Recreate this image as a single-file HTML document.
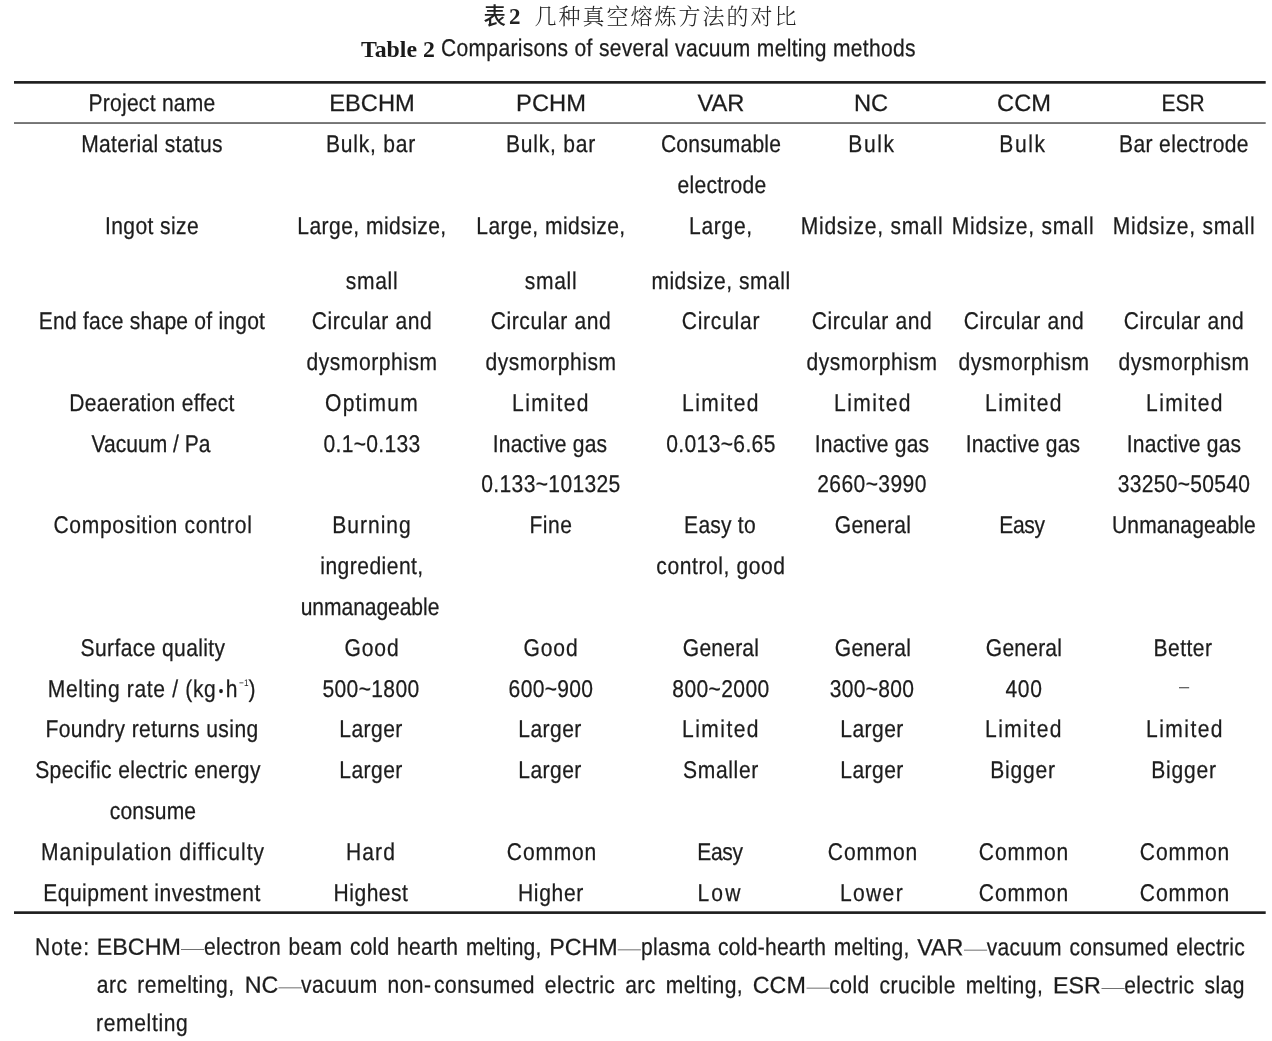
<!DOCTYPE html>
<html lang="en"><head><meta charset="utf-8"><title>Table 2</title>
<style>
html,body{margin:0;padding:0;background:#fff;}
body{width:1272px;height:1041px;position:relative;overflow:hidden;color:#1c1c1c;
 font-family:"Liberation Sans","Noto Sans CJK SC",sans-serif;}
.t{position:absolute;white-space:nowrap;font-size:24.2px;line-height:28px;height:28px;
 transform:translateX(-50%) scaleX(0.87) rotate(.03deg);transform-origin:50% 50%;}
.c{transform:translateX(-50%) rotate(.03deg);font-size:23.7px}
.c.e{transform:translateX(-50%) scaleX(.885) rotate(.03deg)}
.l{position:absolute;white-space:nowrap;font-size:24.2px;line-height:28px;height:28px;
 letter-spacing:.45px;transform:scaleX(0.87) rotate(.03deg);transform-origin:0 50%;}

.t,.l{-webkit-text-stroke:0.25px #1c1c1c}
.rule{position:absolute;left:14px;width:1252px;background:#222;}
sup{font-size:9.5px;line-height:0;vertical-align:baseline;position:relative;top:-11.3px;letter-spacing:0;-webkit-text-stroke:0;margin-left:1px}
.nj{text-align:justify;text-align-last:justify;white-space:nowrap;transform-origin:50% 50%}
.em{letter-spacing:0;color:#444;display:inline-block;transform:scale(1.1,.55);margin:0 .9px;position:relative;top:1.5px;-webkit-text-stroke:0}
.ab{display:inline-block;letter-spacing:0;font-size:23.3px;transform:scaleX(1.1494);transform-origin:0 50%}
</style></head><body>

<svg width="1272" height="1041" viewBox="0 0 1272 1041" style="position:absolute;left:0;top:0" shape-rendering="geometricPrecision"><rect x="14" y="81.05" width="1251.7" height="2.65" fill="#1e1e1e"/><rect x="14" y="122.35" width="1251.7" height="1.35" fill="#3a3a3a"/><rect x="14" y="911.3" width="1251.7" height="2.65" fill="#1e1e1e"/></svg>
<div class="t" style="left:151.75px;top:89.16px;letter-spacing:0.307px">Project name</div>
<div class="t c" style="left:371.65px;top:89.34px;letter-spacing:0.000px">EBCHM</div>
<div class="t c" style="left:550.67px;top:89.34px;letter-spacing:0.000px">PCHM</div>
<div class="t c" style="left:721.06px;top:89.34px;letter-spacing:0.000px">VAR</div>
<div class="t c" style="left:871.33px;top:89.34px;letter-spacing:0.000px">NC</div>
<div class="t c" style="left:1023.99px;top:89.34px;letter-spacing:0.000px">CCM</div>
<div class="t c e" style="left:1183.31px;top:89.34px;letter-spacing:0.000px">ESR</div>
<div class="t" style="left:152.10px;top:129.86px;letter-spacing:0.354px">Material status</div>
<div class="t" style="left:371.28px;top:129.86px;letter-spacing:0.874px">Bulk, bar</div>
<div class="t" style="left:550.88px;top:129.86px;letter-spacing:0.874px">Bulk, bar</div>
<div class="t" style="left:720.72px;top:129.86px;letter-spacing:0.228px">Consumable</div>
<div class="t" style="left:872.03px;top:129.86px;letter-spacing:1.890px">Bulk</div>
<div class="t" style="left:1023.13px;top:129.86px;letter-spacing:1.890px">Bulk</div>
<div class="t" style="left:1183.66px;top:129.86px;letter-spacing:0.405px">Bar electrode</div>
<div class="t" style="left:721.52px;top:170.76px;letter-spacing:0.308px">electrode</div>
<div class="t" style="left:151.55px;top:211.71px;letter-spacing:0.457px">Ingot size</div>
<div class="t" style="left:371.71px;top:211.71px;letter-spacing:0.510px">Large, midsize,</div>
<div class="t" style="left:551.31px;top:211.71px;letter-spacing:0.510px">Large, midsize,</div>
<div class="t" style="left:721.38px;top:211.71px;letter-spacing:0.800px">Large,</div>
<div class="t" style="left:871.71px;top:211.71px;letter-spacing:0.864px">Midsize, small</div>
<div class="t" style="left:1022.81px;top:211.71px;letter-spacing:0.864px">Midsize, small</div>
<div class="t" style="left:1183.71px;top:211.71px;letter-spacing:0.864px">Midsize, small</div>
<div class="t" style="left:371.79px;top:266.56px;letter-spacing:0.799px">small</div>
<div class="t" style="left:551.39px;top:266.56px;letter-spacing:0.799px">small</div>
<div class="t" style="left:720.78px;top:266.56px;letter-spacing:0.579px">midsize, small</div>
<div class="t" style="left:151.61px;top:307.06px;letter-spacing:0.264px">End face shape of ingot</div>
<div class="t" style="left:371.66px;top:307.06px;letter-spacing:0.694px">Circular and</div>
<div class="t" style="left:551.26px;top:307.06px;letter-spacing:0.694px">Circular and</div>
<div class="t" style="left:720.80px;top:307.06px;letter-spacing:0.882px">Circular</div>
<div class="t" style="left:872.46px;top:307.06px;letter-spacing:0.694px">Circular and</div>
<div class="t" style="left:1023.56px;top:307.06px;letter-spacing:0.694px">Circular and</div>
<div class="t" style="left:1184.46px;top:307.06px;letter-spacing:0.694px">Circular and</div>
<div class="t" style="left:371.60px;top:347.89px;letter-spacing:0.621px">dysmorphism</div>
<div class="t" style="left:551.20px;top:347.89px;letter-spacing:0.621px">dysmorphism</div>
<div class="t" style="left:872.40px;top:347.89px;letter-spacing:0.621px">dysmorphism</div>
<div class="t" style="left:1023.50px;top:347.89px;letter-spacing:0.621px">dysmorphism</div>
<div class="t" style="left:1184.40px;top:347.89px;letter-spacing:0.621px">dysmorphism</div>
<div class="t" style="left:151.85px;top:388.72px;letter-spacing:0.370px">Deaeration effect</div>
<div class="t" style="left:371.76px;top:388.72px;letter-spacing:1.400px">Optimum</div>
<div class="t" style="left:551.44px;top:388.72px;letter-spacing:1.659px">Limited</div>
<div class="t" style="left:721.44px;top:388.72px;letter-spacing:1.659px">Limited</div>
<div class="t" style="left:872.64px;top:388.72px;letter-spacing:1.659px">Limited</div>
<div class="t" style="left:1023.74px;top:388.72px;letter-spacing:1.659px">Limited</div>
<div class="t" style="left:1184.64px;top:388.72px;letter-spacing:1.659px">Limited</div>
<div class="t" style="left:151.29px;top:429.55px;letter-spacing:0.010px">Vacuum / Pa</div>
<div class="t" style="left:371.92px;top:429.55px;letter-spacing:0.361px">0.1~0.133</div>
<div class="t" style="left:550.34px;top:429.55px;letter-spacing:0.220px">Inactive gas</div>
<div class="t" style="left:721.07px;top:429.55px;letter-spacing:0.404px">0.013~6.65</div>
<div class="t" style="left:871.54px;top:429.55px;letter-spacing:0.220px">Inactive gas</div>
<div class="t" style="left:1022.64px;top:429.55px;letter-spacing:0.220px">Inactive gas</div>
<div class="t" style="left:1183.54px;top:429.55px;letter-spacing:0.220px">Inactive gas</div>
<div class="t" style="left:550.64px;top:470.38px;letter-spacing:0.400px">0.133~101325</div>
<div class="t" style="left:872.09px;top:470.38px;letter-spacing:0.462px">2660~3990</div>
<div class="t" style="left:1184.40px;top:470.38px;letter-spacing:0.346px">33250~50540</div>
<div class="t" style="left:153.07px;top:511.21px;letter-spacing:0.796px">Composition control</div>
<div class="t" style="left:371.60px;top:511.21px;letter-spacing:1.154px">Burning</div>
<div class="t" style="left:550.70px;top:511.21px;letter-spacing:0.645px">Fine</div>
<div class="t" style="left:720.30px;top:511.21px;letter-spacing:0.259px">Easy to</div>
<div class="t" style="left:872.53px;top:511.21px;letter-spacing:0.233px">General</div>
<div class="t" style="left:1021.87px;top:511.21px;letter-spacing:-0.303px">Easy</div>
<div class="t" style="left:1184.27px;top:511.21px;letter-spacing:0.105px">Unmanageable</div>
<div class="t" style="left:372.46px;top:552.04px;letter-spacing:0.530px">ingredient,</div>
<div class="t" style="left:720.80px;top:552.04px;letter-spacing:0.675px">control, good</div>
<div class="t" style="left:370.23px;top:592.87px;letter-spacing:-0.065px">unmanageable</div>
<div class="t" style="left:152.50px;top:633.70px;letter-spacing:0.445px">Surface quality</div>
<div class="t" style="left:371.76px;top:633.70px;letter-spacing:0.976px">Good</div>
<div class="t" style="left:551.36px;top:633.70px;letter-spacing:0.976px">Good</div>
<div class="t" style="left:721.33px;top:633.70px;letter-spacing:0.233px">General</div>
<div class="t" style="left:872.53px;top:633.70px;letter-spacing:0.233px">General</div>
<div class="t" style="left:1023.63px;top:633.70px;letter-spacing:0.233px">General</div>
<div class="t" style="left:1183.16px;top:633.70px;letter-spacing:0.583px">Better</div>
<div class="t" style="left:152.29px;top:674.53px;letter-spacing:0.762px">Melting rate / (kg<span style="font-size:15px;position:relative;top:-1px;letter-spacing:0;margin:0 3px 0 2.5px">&#8226;</span>h<sup>&#8722;1</sup>)</div>
<div class="t" style="left:370.78px;top:674.53px;letter-spacing:0.404px">500~1800</div>
<div class="t" style="left:551.28px;top:674.53px;letter-spacing:0.367px">600~900</div>
<div class="t" style="left:720.80px;top:674.53px;letter-spacing:0.443px">800~2000</div>
<div class="t" style="left:872.13px;top:674.53px;letter-spacing:0.364px">300~800</div>
<div class="t" style="left:1023.57px;top:674.53px;letter-spacing:0.706px">400</div>
<div class="t" style="left:1183.81px;top:674.53px;letter-spacing:0.000px"><span style="font-size:21px;position:relative;top:-5.4px;display:inline-block;transform:scaleY(.62);transform-origin:50% 66%;-webkit-text-stroke:0;color:#333">&#8211;</span></div>
<div class="t" style="left:151.70px;top:715.36px;letter-spacing:0.466px">Foundry returns using</div>
<div class="t" style="left:370.85px;top:715.36px;letter-spacing:0.499px">Larger</div>
<div class="t" style="left:550.45px;top:715.36px;letter-spacing:0.499px">Larger</div>
<div class="t" style="left:721.44px;top:715.36px;letter-spacing:1.659px">Limited</div>
<div class="t" style="left:871.65px;top:715.36px;letter-spacing:0.499px">Larger</div>
<div class="t" style="left:1023.74px;top:715.36px;letter-spacing:1.659px">Limited</div>
<div class="t" style="left:1184.64px;top:715.36px;letter-spacing:1.659px">Limited</div>
<div class="t" style="left:147.95px;top:756.19px;letter-spacing:0.446px">Specific electric energy</div>
<div class="t" style="left:370.85px;top:756.19px;letter-spacing:0.499px">Larger</div>
<div class="t" style="left:550.45px;top:756.19px;letter-spacing:0.499px">Larger</div>
<div class="t" style="left:720.81px;top:756.19px;letter-spacing:0.773px">Smaller</div>
<div class="t" style="left:871.65px;top:756.19px;letter-spacing:0.499px">Larger</div>
<div class="t" style="left:1022.99px;top:756.19px;letter-spacing:0.936px">Bigger</div>
<div class="t" style="left:1183.89px;top:756.19px;letter-spacing:0.936px">Bigger</div>
<div class="t" style="left:152.94px;top:797.02px;letter-spacing:0.141px">consume</div>
<div class="t" style="left:152.57px;top:837.85px;letter-spacing:1.163px">Manipulation difficulty</div>
<div class="t" style="left:371.44px;top:837.85px;letter-spacing:1.188px">Hard</div>
<div class="t" style="left:551.60px;top:837.85px;letter-spacing:0.938px">Common</div>
<div class="t" style="left:719.57px;top:837.85px;letter-spacing:-0.303px">Easy</div>
<div class="t" style="left:872.80px;top:837.85px;letter-spacing:0.938px">Common</div>
<div class="t" style="left:1023.90px;top:837.85px;letter-spacing:0.938px">Common</div>
<div class="t" style="left:1184.80px;top:837.85px;letter-spacing:0.938px">Common</div>
<div class="t" style="left:151.93px;top:878.68px;letter-spacing:0.536px">Equipment investment</div>
<div class="t" style="left:371.14px;top:878.68px;letter-spacing:0.591px">Highest</div>
<div class="t" style="left:551.06px;top:878.68px;letter-spacing:0.798px">Higher</div>
<div class="t" style="left:720.30px;top:878.68px;letter-spacing:2.503px">Low</div>
<div class="t" style="left:871.50px;top:878.68px;letter-spacing:1.535px">Lower</div>
<div class="t" style="left:1023.90px;top:878.68px;letter-spacing:0.938px">Common</div>
<div class="t" style="left:1184.80px;top:878.68px;letter-spacing:0.938px">Common</div>
<div id="cn" style="position:absolute;left:483.5px;top:1.8px;white-space:nowrap;height:30px;line-height:30px;font-size:22px;font-family:'Liberation Serif','Noto Serif CJK SC',serif;color:#222"><span style="font-family:'Liberation Serif','Noto Sans CJK SC',sans-serif;font-weight:500;font-size:22.4px">表</span><span style="font-weight:bold;font-size:23px;margin-left:3px">2</span><span style="margin-left:14px;letter-spacing:2.0px;font-weight:300">几种真空熔炼方法的对比</span></div>
<div id="en1" style="position:absolute;left:361px;top:35.35px;white-space:nowrap;height:28px;line-height:28px;font-size:23.8px;font-family:'Liberation Serif',serif;font-weight:bold;color:#1a1a1a">Table 2</div>
<div id="en2" class="l" style="left:440.6px;top:34.41px;letter-spacing:.36px">Comparisons of several vacuum melting methods</div>
<div class="l" style="left:35.4px;top:933.11px;letter-spacing:1.1px">Note:</div>
<div class="l nj" style="left:10.51px;top:933.11px;width:1319.77px;letter-spacing:.3px"><span class="ab" style="margin-right:13.23px">EBCHM</span><span class="em">&#8212;</span>electron beam cold hearth melting, <span class="ab" style="margin-right:10.89px">PCHM</span><span class="em">&#8212;</span>plasma cold-hearth melting, <span class="ab" style="margin-right:7.79px">VAR</span><span class="em">&#8212;</span>vacuum consumed electric</div>
<div class="l nj" style="left:10.51px;top:970.96px;width:1319.77px;letter-spacing:.55px">arc remelting, <span class="ab" style="margin-right:5.65px">NC</span><span class="em">&#8212;</span>vacuum non-<span style="margin-left:3px"></span>consumed electric arc melting, <span class="ab" style="margin-right:8.56px">CCM</span><span class="em">&#8212;</span>cold crucible melting, <span class="ab" style="margin-right:7.79px">ESR</span><span class="em">&#8212;</span>electric slag</div>
<div class="l" style="left:96.3px;top:1008.76px;letter-spacing:.75px">remelting</div>
</body></html>
